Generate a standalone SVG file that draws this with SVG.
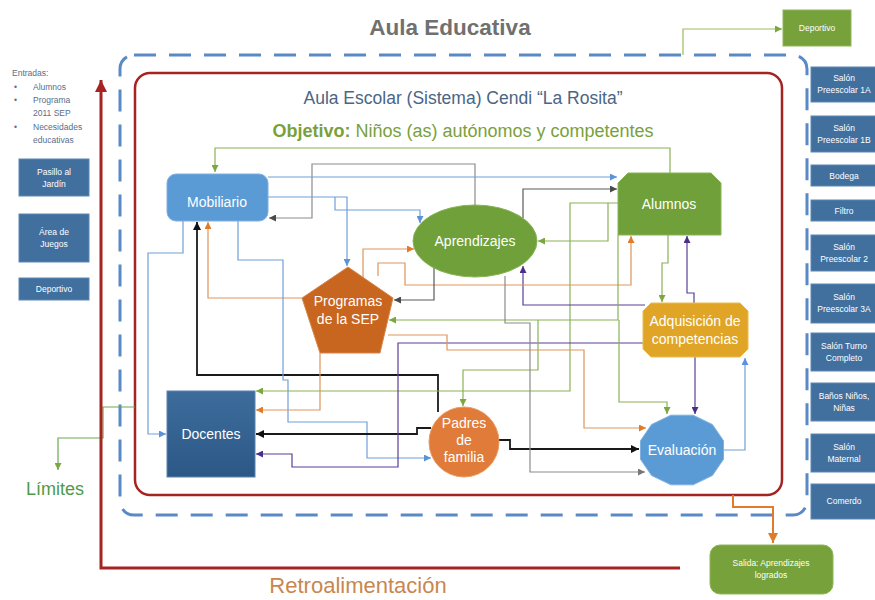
<svg xmlns="http://www.w3.org/2000/svg" width="875" height="600" viewBox="0 0 875 600">
<style>
text{font-family:"Liberation Sans",Arial,sans-serif}
.box{fill:#41709f;stroke:#5c87b3;stroke-width:1}
.bt{fill:#fff;font-size:8.5px;text-anchor:middle}
.nt{fill:#fff;font-size:14px;text-anchor:middle}
.c{fill:none;stroke-width:1.2}
.blue{stroke:#6fa0d8}.gray{stroke:#8c8c8c}.dgray{stroke:#5a5a5a}.black{stroke:#1a1a1a;stroke-width:1.8}
.orange{stroke:#e0955a}.green{stroke:#8bb157}.purple{stroke:#5b3f96}
.lt{fill:#5a6e8a;font-size:8.5px}
</style>
<defs>
<marker id="aBlue" viewBox="0 0 8 8" refX="8" refY="4" markerWidth="7" markerHeight="7" markerUnits="userSpaceOnUse" orient="auto"><path d="M0,0L8,4L0,8z" fill="#5b93d8"/></marker>
<marker id="aGray" viewBox="0 0 8 8" refX="8" refY="4" markerWidth="7" markerHeight="7" markerUnits="userSpaceOnUse" orient="auto"><path d="M0,0L8,4L0,8z" fill="#777"/></marker>
<marker id="aDgray" viewBox="0 0 8 8" refX="8" refY="4" markerWidth="7" markerHeight="7" markerUnits="userSpaceOnUse" orient="auto"><path d="M0,0L8,4L0,8z" fill="#4a4a4a"/></marker>
<marker id="aBlack" viewBox="0 0 8 8" refX="8" refY="4" markerWidth="8" markerHeight="8" markerUnits="userSpaceOnUse" orient="auto"><path d="M0,0L8,4L0,8z" fill="#111"/></marker>
<marker id="aOrange" viewBox="0 0 8 8" refX="8" refY="4" markerWidth="7" markerHeight="7" markerUnits="userSpaceOnUse" orient="auto"><path d="M0,0L8,4L0,8z" fill="#e07b2a"/></marker>
<marker id="aGreen" viewBox="0 0 8 8" refX="8" refY="4" markerWidth="7" markerHeight="7" markerUnits="userSpaceOnUse" orient="auto"><path d="M0,0L8,4L0,8z" fill="#7aa83f"/></marker>
<marker id="aPurple" viewBox="0 0 8 8" refX="8" refY="4" markerWidth="7" markerHeight="7" markerUnits="userSpaceOnUse" orient="auto"><path d="M0,0L8,4L0,8z" fill="#4b2f86"/></marker>
<marker id="aRed" viewBox="0 0 8 8" refX="8" refY="4" markerWidth="12" markerHeight="12" markerUnits="userSpaceOnUse" orient="auto"><path d="M0,0L8,4L0,8z" fill="#a52422"/></marker>
<marker id="aSal" viewBox="0 0 8 8" refX="8" refY="4" markerWidth="10" markerHeight="10" markerUnits="userSpaceOnUse" orient="auto"><path d="M0,0L8,4L0,8z" fill="#e07b2a"/></marker>
<linearGradient id="gDoc" x1="0" y1="0" x2="0" y2="1"><stop offset="0" stop-color="#3d6c9c"/><stop offset="1" stop-color="#2c5886"/></linearGradient>
</defs>

<text x="450" y="35" font-size="22.5" font-weight="bold" fill="#707070" text-anchor="middle">Aula Educativa</text>

<g id="frames">
<rect x="120" y="55" width="687" height="460" rx="14" fill="none" stroke="#5a8ac6" stroke-width="3" stroke-dasharray="22 13"/>
<rect x="135" y="73" width="647" height="422" rx="15" fill="none" stroke="#a52422" stroke-width="2.5"/>
</g>

<text x="463" y="104" font-size="17.5" fill="#4a6585" text-anchor="middle">Aula Escolar (Sistema) Cendi “La Rosita”</text>
<text x="463" y="137" font-size="18" fill="#7aa03c" text-anchor="middle"><tspan font-weight="bold">Objetivo:</tspan> Niños (as) autónomos y competentes</text>

<g id="entradas">
<text x="12" y="76" class="lt">Entradas:</text>
<text x="14" y="90" class="lt">•</text><text x="33" y="90" class="lt">Alumnos</text>
<text x="14" y="103" class="lt">•</text><text x="33" y="103" class="lt">Programa</text>
<text x="33" y="116" class="lt">2011 SEP</text>
<text x="14" y="130" class="lt">•</text><text x="33" y="130" class="lt">Necesidades</text>
<text x="33" y="143" class="lt">educativas</text>
</g>
<g id="pasillo"><rect x="19" y="159" width="70" height="37" class="box"/><text x="54" y="175" class="bt">Pasillo al</text><text x="54" y="187" class="bt">Jardín</text></g>
<g id="area"><rect x="19" y="214" width="70" height="48" class="box"/><text x="54" y="235" class="bt">Área de</text><text x="54" y="247" class="bt">Juegos</text></g>
<g id="deportivo-izq"><rect x="19" y="278" width="70" height="22" class="box"/><text x="54" y="292" class="bt">Deportivo</text></g>

<g id="deportivo-sup"><rect x="783" y="10" width="68" height="36" fill="#76a13b" stroke="#8fb55a"/><text x="817" y="31" class="bt">Deportivo</text></g>

<g id="derecha">
<rect x="811" y="67" width="70" height="35" class="box"/><text x="844" y="81" class="bt">Salón</text><text x="844" y="93" class="bt">Preescolar 1A</text>
<rect x="811" y="116" width="70" height="36" class="box"/><text x="844" y="131" class="bt">Salón</text><text x="844" y="143" class="bt">Preescolar 1B</text>
<rect x="811" y="165" width="70" height="21" class="box"/><text x="844" y="179" class="bt">Bodega</text>
<rect x="811" y="200" width="70" height="21" class="box"/><text x="844" y="214" class="bt">Filtro</text>
<rect x="811" y="235" width="70" height="36" class="box"/><text x="844" y="250" class="bt">Salón</text><text x="844" y="262" class="bt">Preescolar 2</text>
<rect x="811" y="284" width="70" height="39" class="box"/><text x="844" y="300" class="bt">Salón</text><text x="844" y="312" class="bt">Preescolar 3A</text>
<rect x="811" y="333" width="70" height="38" class="box"/><text x="844" y="349" class="bt">Salón Turno</text><text x="844" y="361" class="bt">Completo</text>
<rect x="811" y="383" width="70" height="38" class="box"/><text x="844" y="399" class="bt">Baños Niños,</text><text x="844" y="411" class="bt">Niñas</text>
<rect x="811" y="434" width="70" height="38" class="box"/><text x="844" y="450" class="bt">Salón</text><text x="844" y="462" class="bt">Maternal</text>
<rect x="811" y="484" width="70" height="35" class="box"/><text x="844" y="504" class="bt">Comerdo</text>
</g>

<g id="salida"><rect x="710" y="545" width="123" height="49" rx="10" fill="#76a13b" stroke="#8fb55a"/><text x="771" y="566" class="bt">Salida: Aprendizajes</text><text x="771" y="578" class="bt">logrados</text></g>

<g id="connectors">
<path class="c green" d="M670,173V148H215V172" marker-end="url(#aGreen)"/>
<path class="c gray" d="M475,205V164H312V218H269" marker-end="url(#aDgray)"/>
<path class="c blue" d="M268,177H617" marker-end="url(#aBlue)"/>
<path class="c blue" d="M268,197H347V266" marker-end="url(#aBlue)"/>
<path class="c blue" d="M335,197V210H420V223" marker-end="url(#aBlue)"/>
<path class="c orange" d="M363,279V249H414" marker-end="url(#aOrange)"/>
<path class="c orange" d="M302,298H208V222" marker-end="url(#aOrange)"/>
<path class="c black" d="M438,412V375H197V222" marker-end="url(#aBlack)"/>
<path class="c blue" d="M238,221V260H283V380H288V422H367V458H431" marker-end="url(#aBlue)"/>
<path class="c blue" d="M183,221V253H148V434H166" marker-end="url(#aBlue)"/>
<path class="c orange" d="M320,353V410H256" marker-end="url(#aOrange)"/>
<path class="c green" d="M618,203H570V391H256" marker-end="url(#aGreen)"/>
<path class="c green" d="M608,203V241H538" marker-end="url(#aGreen)"/>
<path class="c black" d="M431,428H417V434H256" marker-end="url(#aBlack)"/>
<path class="c purple" d="M643,343H398V467H292V454H256" marker-end="url(#aPurple)"/>
<path class="c purple" d="M645,305H523V266" marker-end="url(#aPurple)"/>
<path class="c purple" d="M694,303V293H687V236" marker-end="url(#aPurple)"/>
<path class="c green" d="M668,235V263H662V302" marker-end="url(#aGreen)"/>
<path class="c orange" d="M378,276V263H405V285H631V236" marker-end="url(#aOrange)"/>
<path class="c dgray" d="M523,218V189H617" marker-end="url(#aDgray)"/>
<path class="c dgray" d="M434,268V300H394" marker-end="url(#aDgray)"/>
<path class="c green" d="M618,235V320H389" marker-end="url(#aGreen)"/>
<path class="c green" d="M538,320V370H463V406" marker-end="url(#aGreen)"/>
<path class="c green" d="M619,320V402H667V414" marker-end="url(#aGreen)"/>
<path class="c purple" d="M695,357V414" marker-end="url(#aPurple)"/>
<path class="c blue" d="M724,450H745V358" marker-end="url(#aBlue)"/>
<path class="c orange" d="M388,335H447V350H584V428H646" marker-end="url(#aOrange)"/>
<path class="c black" d="M498,440H510V449H639" marker-end="url(#aBlack)"/>
<path class="c gray" d="M505,276V323H530V472H645" marker-end="url(#aGray)"/>
<path fill="none" stroke="#6aa84f" stroke-width="1.2" d="M135,407H103V438H58V470" marker-end="url(#aGreen)"/>
<path fill="none" stroke="#9bbb59" stroke-width="1.2" d="M683,55V29H782" marker-end="url(#aGreen)"/>
<path fill="none" stroke="#e07b2a" stroke-width="2" d="M733,495V507H773V543" marker-end="url(#aSal)"/>
<path fill="none" stroke="#a52422" stroke-width="3" d="M680,568H101V80" marker-end="url(#aRed)"/>
</g>

<g id="mobiliario"><rect x="167" y="174" width="101" height="47" rx="9" fill="#5b9bd5" stroke="#7fb0e0"/><text x="217" y="207" class="nt" font-size="15">Mobiliario</text></g>
<g id="aprendizajes"><ellipse cx="475" cy="241" rx="62" ry="36" fill="#70a03a" stroke="#86b455"/><text x="475" y="246" class="nt">Aprendizajes</text></g>
<g id="alumnos"><polygon points="628,173 711,173 721,183 721,235 618,235 618,183" fill="#70a03a" stroke="#86b455"/><text x="669" y="209" class="nt">Alumnos</text></g>
<g id="programas"><polygon points="348,267 393,298 380,353 320,353 302,298" fill="#c8651f" stroke="#d8854a"/><text x="348" y="306" class="nt">Programas</text><text x="348" y="324" class="nt">de la SEP</text></g>
<g id="adquisicion"><polygon points="651,303 740,303 748,311 748,349 740,357 651,357 643,349 643,311" fill="#e0a526" stroke="#edbb50"/><text x="695" y="326" class="nt" font-size="13.5">Adquisición de</text><text x="695" y="344" class="nt" font-size="13.5">competencias</text></g>
<g id="docentes"><rect x="167" y="391" width="88" height="86" fill="url(#gDoc)" stroke="#5a84b0"/><text x="211" y="439" class="nt">Docentes</text></g>
<g id="padres"><circle cx="464" cy="442" r="35" fill="#e07b39" stroke="#ec9a60"/><text x="464" y="428" class="nt" font-size="12.5">Padres</text><text x="464" y="445" class="nt" font-size="12.5">de</text><text x="464" y="462" class="nt" font-size="12.5">familia</text></g>
<g id="evaluacion"><polygon points="723.5,459.3 712.4,475.5 693.1,484.8 670.9,484.8 651.6,475.5 640.5,459.3 640.5,440.7 651.6,424.5 670.9,415.2 693.1,415.2 712.4,424.5 723.5,440.7" fill="#5b9bd5" stroke="#7fb0e0"/><text x="682" y="455" class="nt">Evaluación</text></g>

<text x="55" y="495" font-size="18" fill="#4f9a4a" text-anchor="middle">Límites</text>
<text x="358" y="593" font-size="22" fill="#c8874f" text-anchor="middle">Retroalimentación</text>
</svg>
